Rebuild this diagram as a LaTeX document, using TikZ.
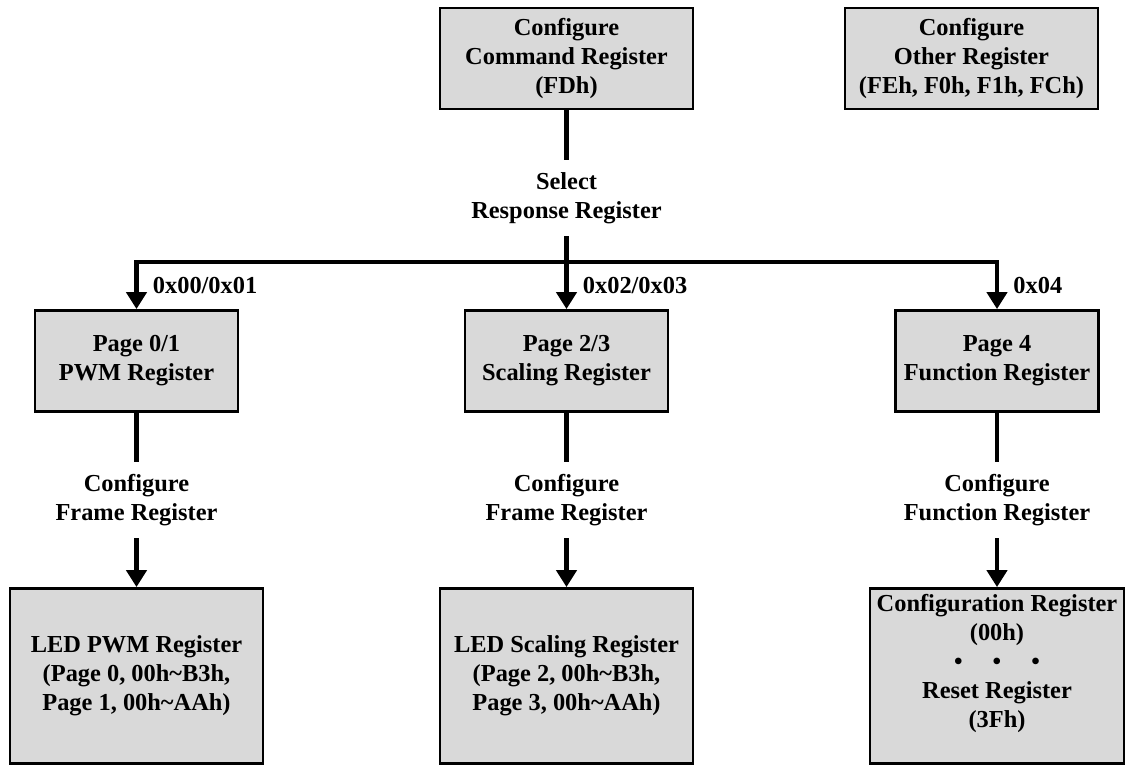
\documentclass[tikz,border=0pt]{standalone}
\usepackage{fontspec}
\setmainfont{Liberation Serif}
\usetikzlibrary{arrows.meta}
\definecolor{regfill}{HTML}{D9D9D9}
\begin{document}
\begin{tikzpicture} [x=0.5pt, y=-0.5pt,
    font=\fontsize{12.2pt}{14.5pt}\selectfont\bfseries,
    reg/.style={draw, line width=1.4pt, fill=regfill, align=center, inner sep=0pt},
    topreg/.style={reg, minimum width=126.5pt, minimum height=50.5pt},
    pagereg/.style={reg, minimum width=101.5pt, minimum height=50.5pt},
    ledreg/.style={reg, minimum width=126.5pt, minimum height=87.5pt},
    step label/.style={align=center, inner xsep=0pt, inner ysep=6pt},
    page label/.style={anchor=west, inner sep=0pt, xshift=7pt},
    link/.style={line width=2.4pt},
    arrow/.style={link, -{Triangle[width=10pt, length=8.5pt]}}]
    \useasboundingbox (0, 0) rectangle (1128, 765);
    \node[topreg] (cmd) at (566.5, 58.5) {Configure\\Command Register\\(FDh)};
    \node[topreg] (other) at (971.5, 58.5) {Configure\\Other Register\\(FEh, F0h, F1h, FCh)};
    \node[step label] (sel) at (566.5, 198) {Select\\Response Register};
    \coordinate (j2) at (566.5, 262);
    \node[pagereg] (pwm) at (136.5, 361) {Page 0/1\\PWM Register};
    \node[pagereg] (scal) at (566.5, 361) {Page 2/3\\Scaling Register};
    \node[pagereg] (func) at (997, 361) {Page 4\\Function Register};
    \node[step label] (cfgpwm) at (136.5, 500) {Configure\\Frame Register};
    \node[step label] (cfgscal) at (566.5, 500) {Configure\\Frame Register};
    \node[step label] (cfgfunc) at (997, 500) {Configure\\Function Register};
    \node[ledreg] (ledpwm) at (136.5, 676) {LED PWM Register\\(Page 0, 00h\textasciitilde B3h,\\Page 1, 00h\textasciitilde AAh)};
    \node[ledreg] (ledscal) at (566.5, 676) {LED Scaling Register\\(Page 2, 00h\textasciitilde B3h,\\Page 3, 00h\textasciitilde AAh)};
    \node[ledreg, minimum width=127pt, text depth=15pt] (fnreg) at (997, 676) {Configuration Register\\(00h)\\\textbullet\hspace{15pt}\textbullet\hspace{15pt}\textbullet\\Reset Register\\(3Fh)};
    \draw[link] (cmd.south) -- (sel.north);
    \draw[link] (sel.south) -- (j2);
    \draw[arrow] (j2) -| node[page label, pos=0.75] (la) {0x00/0x01} (pwm.north);
    \draw[arrow] (j2) -- node[page label, midway] (lb) {0x02/0x03} (scal.north);
    \draw[arrow] (j2) -| node[page label, pos=0.75] (lc) {0x04} (func.north);
    \draw[link] (pwm.south) -- (cfgpwm.north);
    \draw[link] (scal.south) -- (cfgscal.north);
    \draw[link] (func.south) -- (cfgfunc.north);
    \draw[arrow] (cfgpwm.south) -- (ledpwm.north);
    \draw[arrow] (cfgscal.south) -- (ledscal.north);
    \draw[arrow] (cfgfunc.south) -- (fnreg.north);
    \end{tikzpicture}
\end{document}
